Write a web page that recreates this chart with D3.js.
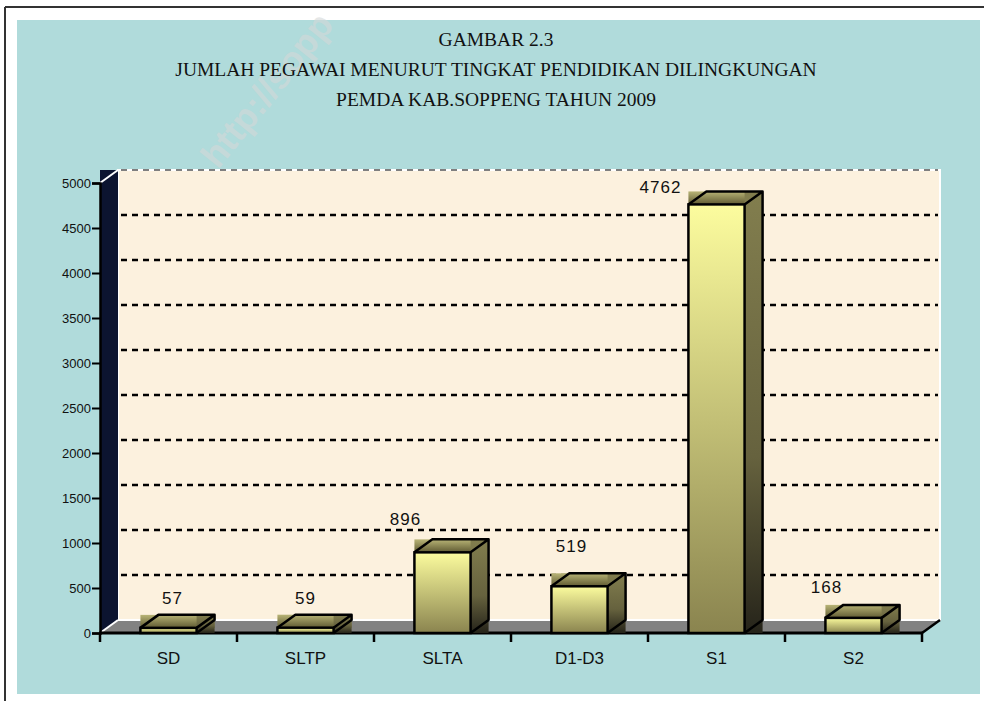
<!DOCTYPE html>
<html>
<head>
<meta charset="utf-8">
<script src="https://cdn.jsdelivr.net/npm/d3@7"></script>
<style>
  body { margin: 0; background: #fff; }
  svg { display: block; }
</style>
</head>
<body>
<svg id="chart" width="984" height="701"></svg>
<script>
// data
const categories = ["SD", "SLTP", "SLTA", "D1-D3", "S1", "S2"];
const pegawai = [57, 59, 896, 519, 4762, 168];
const yTicks = [0, 500, 1000, 1500, 2000, 2500, 3000, 3500, 4000, 4500, 5000];
const titleLines = [
  "GAMBAR 2.3",
  "JUMLAH PEGAWAI MENURUT TINGKAT PENDIDIKAN DILINGKUNGAN",
  "PEMDA KAB.SOPPENG TAHUN 2009"
];

// layout only: where excel dropped each value label, relative to the bar top
const labelNudge = [[4, -11], [0, -11], [-37, -14], [-8, -21], [-56, 2], [-27, -12]];

const svg = d3.select("#chart");
const width = +svg.attr("width"), height = +svg.attr("height");

const plotLeft = 100, plotRight = 922, base = 633, plotTop = 183;
const dx = 18, dy = -13;   // 3d depth offset

const x = d3.scaleBand().domain(categories).range([plotLeft, plotRight]);
const y = d3.scaleLinear().domain([0, 5000]).range([base, plotTop]);
const bw = x.bandwidth() * 0.41;

// gradients
const defs = svg.append("defs");
function grad(id, stops) {
  const g = defs.append("linearGradient").attr("id", id)
    .attr("x1", 0).attr("y1", 0).attr("x2", 0).attr("y2", 1);
  stops.forEach(s => g.append("stop").attr("offset", s[0]).attr("stop-color", s[1]));
}
grad("front", [[0, "#fcfc9e"], [1, "#8a844f"]]);
grad("topf", [[0, "#b8b476"], [1, "#5f5a32"]]);
grad("side", [[0, "#827e4e"], [0.6, "#66623e"], [1, "#26241a"]]);

// page frame
svg.append("line").attr("x1", 5).attr("y1", 7).attr("x2", width).attr("y2", 7)
  .attr("stroke", "#333").attr("stroke-width", 2);
svg.append("line").attr("x1", 5).attr("y1", 7).attr("x2", 5).attr("y2", height)
  .attr("stroke", "#333").attr("stroke-width", 2);

// chart area
svg.append("rect").attr("x", 17).attr("y", 20).attr("width", 963).attr("height", 674)
  .attr("fill", "#b0dbdb");

// watermark
svg.append("text")
  .attr("transform", "translate(218,170) rotate(-51)")
  .style("font-family", "Arial, 'Liberation Sans', sans-serif")
  .style("font-size", "36px")
  .style("font-weight", "bold")
  .attr("fill", "#d4d8d8")
  .attr("opacity", 0.6)
  .text("http://sopp");

// title
svg.append("g").selectAll("text")
  .data(titleLines)
  .enter().append("text")
  .attr("x", 496)
  .attr("y", (d, i) => 46 + i * 30)
  .attr("text-anchor", "middle")
  .style("font-family", "'Times New Roman', 'Liberation Serif', serif")
  .style("font-size", "19.5px")
  .attr("fill", "#111")
  .text(d => d);

// back wall
const wallTop = y(5000) + dy, wallBottom = base + dy;
svg.append("rect")
  .attr("x", plotLeft + dx).attr("y", wallTop)
  .attr("width", plotRight - plotLeft).attr("height", wallBottom - wallTop)
  .attr("fill", "#fcf1de")
  .attr("stroke", "#fff").attr("stroke-width", 2);

// side wall (its bounding box shows dark, like the original)
svg.append("rect")
  .attr("x", plotLeft).attr("y", wallTop)
  .attr("width", dx).attr("height", base - wallTop)
  .attr("fill", "#0c1430");
svg.append("line").attr("x1", plotLeft).attr("y1", y(5000)).attr("x2", plotLeft + dx).attr("y2", wallTop)
  .attr("stroke", "#fff").attr("stroke-width", 2);

// floor
svg.append("path")
  .attr("d", `M${plotLeft},${base} L${plotLeft + dx},${wallBottom} L${plotRight + dx},${wallBottom} L${plotRight},${base} Z`)
  .attr("fill", "#828282");
svg.append("line").attr("x1", plotLeft + dx).attr("y1", wallBottom).attr("x2", plotRight + dx).attr("y2", wallBottom)
  .attr("stroke", "#fff").attr("stroke-width", 2);
svg.append("line").attr("x1", plotLeft).attr("y1", base).attr("x2", plotLeft + dx).attr("y2", wallBottom)
  .attr("stroke", "#fff").attr("stroke-width", 2);
svg.append("line").attr("x1", plotRight).attr("y1", base).attr("x2", plotRight + dx).attr("y2", wallBottom)
  .attr("stroke", "#000").attr("stroke-width", 2.5);

// gridlines on the back wall
svg.append("g").selectAll("line")
  .data(yTicks.filter(d => d > 0))
  .enter().append("line")
  .attr("x1", plotLeft + dx + 3).attr("x2", plotRight + dx - 2)
  .attr("y1", d => y(d) + dy).attr("y2", d => y(d) + dy)
  .attr("stroke", d => d === 5000 ? "#555" : "#000")
  .attr("stroke-width", d => d === 5000 ? 1.5 : 2.5)
  .attr("stroke-dasharray", "6,5");

// y axis
const yAxis = svg.append("g")
  .attr("transform", `translate(${plotLeft},0)`)
  .call(d3.axisLeft(y).tickValues(yTicks).tickSize(8).tickPadding(1).tickFormat(d3.format("d")));
yAxis.select(".domain").attr("stroke", "#000").attr("stroke-width", 2.5);
yAxis.selectAll(".tick line").attr("stroke", "#000").attr("stroke-width", 2);
yAxis.selectAll(".tick text")
  .style("font-family", "Arial, 'Liberation Sans', sans-serif")
  .style("font-size", "13px")
  .attr("fill", "#111");

// x axis line + ticks at band edges
svg.append("line").attr("x1", plotLeft - 1).attr("x2", plotRight + 1).attr("y1", base).attr("y2", base)
  .attr("stroke", "#000").attr("stroke-width", 3);
const edges = categories.map(c => x(c)).concat([plotRight]);
svg.append("g").selectAll("line")
  .data(edges)
  .enter().append("line")
  .attr("x1", d => d).attr("x2", d => d)
  .attr("y1", base).attr("y2", base + 9)
  .attr("stroke", "#000").attr("stroke-width", 2.5);

svg.append("g").selectAll("text")
  .data(categories)
  .enter().append("text")
  .attr("x", d => x(d) + x.bandwidth() / 2)
  .attr("y", base + 31)
  .attr("text-anchor", "middle")
  .style("font-family", "Arial, 'Liberation Sans', sans-serif")
  .style("font-size", "17px")
  .attr("fill", "#111")
  .text(d => d);

// bars
const rows = categories.map((c, i) => ({ cat: c, value: pegawai[i], i: i }));
const bars = svg.append("g").selectAll("g")
  .data(rows)
  .enter().append("g");

bars.each(function(d) {
  const g = d3.select(this);
  const x0 = x(d.cat) + (x.bandwidth() - bw) / 2, x1 = x0 + bw;
  const yt = y(d.value);

  g.append("rect")
    .attr("x", x0).attr("y", yt + dy).attr("width", bw + dx).attr("height", -dy)
    .attr("fill", "url(#topf)");
  g.append("rect")
    .attr("x", x1).attr("y", yt + dy).attr("width", dx).attr("height", base - yt - dy)
    .attr("fill", "url(#side)");
  g.append("rect")
    .attr("x", x0).attr("y", yt).attr("width", bw).attr("height", base - yt)
    .attr("fill", "url(#front)")
    .attr("stroke", "#000").attr("stroke-width", 2.5);
  g.append("path")
    .attr("d", `M${x0},${yt} L${x0 + dx},${yt + dy} L${x1 + dx},${yt + dy} L${x1 + dx},${base + dy} L${x1},${base} M${x1},${yt} L${x1 + dx},${yt + dy}`)
    .attr("fill", "none")
    .attr("stroke", "#000").attr("stroke-width", 2.5)
    .attr("stroke-linejoin", "round");
});

// value labels
svg.append("g").selectAll("text")
  .data(rows)
  .enter().append("text")
  .attr("x", d => x(d.cat) + x.bandwidth() / 2 + labelNudge[d.i][0])
  .attr("y", d => y(d.value) + dy + labelNudge[d.i][1])
  .attr("text-anchor", "middle")
  .style("font-family", "Arial, 'Liberation Sans', sans-serif")
  .style("font-size", "17px")
  .style("letter-spacing", "1px")
  .attr("fill", "#111")
  .text(d => d.value);
</script>
</body>
</html>
